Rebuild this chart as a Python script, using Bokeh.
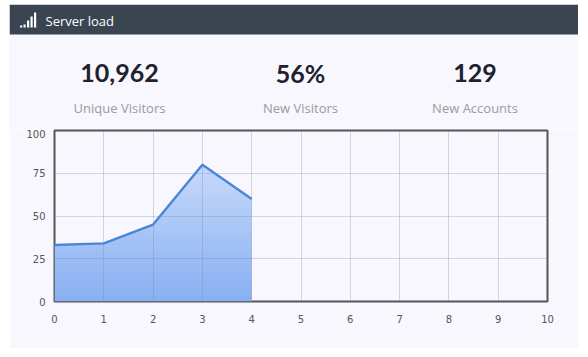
import numpy as np
from bokeh.plotting import figure
from bokeh.layouts import column
from bokeh.models import FixedTicker
from bokeh.core.properties import value
from bokeh.embed import file_html
from bokeh.resources import INLINE

xs = [0, 1, 2, 3, 4]
load = [33, 34, 45, 80, 60]
x_ticks = [0, 1, 2, 3, 4, 5, 6, 7, 8, 9, 10]
y_ticks = [0, 25, 50, 75, 100]
title = "Server load"
stat_values = ["10,962", "56%", "129"]
stat_names = ["Unique Visitors", "New Visitors", "New Accounts"]
stat_centers = [119, 300, 474.5]
signal_x = [19.5, 23, 26.5, 30, 33.5]
signal_h = [2, 3, 7, 11, 15]

PANEL = "#f7f7fd"
W = 569
TOP_H = 125
PLOT_H = 219

# header and stat block, drawn in page pixels
t = figure(width=W, height=TOP_H, x_range=(9, 9 + W), y_range=(5 + TOP_H, 5),
           toolbar_location=None, output_backend="svg", frame_align=False,
           min_border=0, background_fill_color=PANEL, border_fill_color=PANEL)
t.axis.visible = False
t.grid.visible = False
t.outline_line_color = None
t.quad(left=[9], right=[9 + W], top=[5], bottom=[35], fill_color="#3b4552", line_color=None)
t.quad(left=signal_x, right=[v + 2.2 for v in signal_x], top=[28 - h for h in signal_h],
       bottom=[28] * 5, fill_color="#ffffff", line_color=None)
t.text([45], [21], text=[title], text_color="#ffffff", text_font=value("Open Sans"),
       text_font_size="13px", text_baseline="middle")
t.text(stat_centers, [73] * 3, text=stat_values, text_color="#20202e", text_font=value("Lato"),
       text_font_size="25px", text_font_style="bold", text_align="center", text_baseline="middle")
t.text(stat_centers, [108] * 3, text=stat_names, text_color="#9a9aa0", text_font=value("Open Sans"),
       text_font_size="13px", text_align="center", text_baseline="middle")

p = figure(width=W, height=PLOT_H, x_range=(0, 10), y_range=(0, 100),
           toolbar_location=None, output_backend="svg", frame_align=False,
           min_border_left=45, min_border_right=31, min_border_top=1, min_border_bottom=47,
           background_fill_color=PANEL, border_fill_color=PANEL)
p.outline_line_color = "#545459"
p.outline_line_width = 2

for ax, ticks in ((p.xaxis[0], x_ticks), (p.yaxis[0], y_ticks)):
    ax.ticker = FixedTicker(ticks=ticks)
    ax.axis_line_color = None
    ax.major_tick_line_color = None
    ax.minor_tick_line_color = None
    ax.major_label_text_color = "#55555a"
    ax.major_label_text_font = "DejaVu Sans"
    ax.major_label_text_font_size = "10px"
p.xaxis[0].major_label_standoff = 7
p.yaxis[0].major_label_standoff = 3

for g, ticks in ((p.xgrid[0], x_ticks), (p.ygrid[0], y_ticks)):
    g.ticker = FixedTicker(ticks=ticks)
    g.grid_line_color = "#7a7a96"
    g.grid_line_alpha = 0.28
    g.grid_line_width = 1
    g.level = "glyph"

# vertical gradient fill under the line, as thin horizontal bands
fx = np.linspace(xs[0], xs[-1], 401)
fy = np.interp(fx, xs, load)
top_col = np.array([0xc8, 0xda, 0xfa])
bot_col = np.array([0x88, 0xb0, 0xf2])
edges = np.arange(0, max(load) + 1, 2)
for lo, hi in zip(edges[:-1], edges[1:]):
    c = (bot_col + (top_col - bot_col) * lo / max(load)).astype(int)
    col = "#%02x%02x%02x" % tuple(c)
    p.varea(fx, np.minimum(lo, fy), np.minimum(hi + 0.3, fy), fill_color=col, level="underlay")

p.line(xs, load, line_color="#4a86d8", line_width=2.4, level="annotation")

page = column(t, p, spacing=0, margin=(4, 0, 0, 9))
open("out.html", "w").write(file_html(page, INLINE))
